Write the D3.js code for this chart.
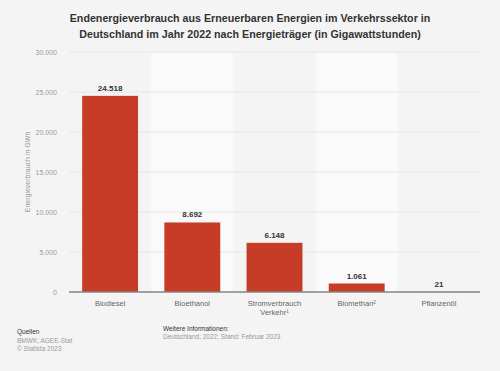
<!DOCTYPE html>
<html>
<head>
<meta charset="utf-8">
<script src="https://cdn.jsdelivr.net/npm/d3@7"></script>
<style>
  body { margin: 0; background: #f4f4f4; }
  svg { display: block; font-family: "Liberation Sans", Arial, sans-serif; }
</style>
</head>
<body>
<svg id="chart" width="500" height="371"></svg>
<script>
var categories = ["Biodiesel", "Bioethanol", "Stromverbrauch Verkehr\u00b9", "Biomethan\u00b2", "Pflanzenöl"];
var labelLines = [["Biodiesel"], ["Bioethanol"], ["Stromverbrauch", "Verkehr\u00b9"], ["Biomethan\u00b2"], ["Pflanzenöl"]];
var values = [24518, 8692, 6148, 1061, 21];
var yTicks = [0, 5000, 10000, 15000, 20000, 25000, 30000];

var svg = d3.select("#chart");
var fmt = function(v) { return d3.format(",")(v).replace(/,/g, "."); };

var x = d3.scaleBand().domain(categories).range([69, 480]);
var y = d3.scaleLinear().domain([0, 30000]).range([292, 52]);

svg.append("rect").attr("width", 500).attr("height", 371).attr("fill", "#f4f4f4");

// alternating column backgrounds
svg.append("g").selectAll("rect").data(categories).enter().append("rect")
  .attr("x", function(d){ return x(d); })
  .attr("y", y(30000))
  .attr("width", x.bandwidth())
  .attr("height", y(0) - y(30000))
  .attr("fill", function(d, i){ return i % 2 ? "#fafafa" : "#f4f4f4"; });

// grid lines
svg.append("g").selectAll("line").data(yTicks.slice(1)).enter().append("line")
  .attr("x1", 69).attr("x2", 480)
  .attr("y1", function(d){ return y(d); })
  .attr("y2", function(d){ return y(d); })
  .attr("stroke", "#e6e6e6").attr("stroke-width", 1);

// y axis labels
var yAxis = svg.append("g").attr("transform", "translate(69,0)")
  .call(d3.axisLeft(y).tickValues(yTicks).tickSize(0).tickPadding(12).tickFormat(fmt));
yAxis.select(".domain").remove();
yAxis.selectAll("text").attr("fill", "#999").style("font-size", "7px");

svg.append("text")
  .attr("transform", "translate(30,172) rotate(-90)")
  .attr("text-anchor", "middle")
  .attr("fill", "#999").style("font-size", "7px")
  .text("Energieverbrauch in GWh");

// bars
var barW = x.bandwidth() * 0.68;
var barOff = (x.bandwidth() - barW) / 2;
svg.append("g").selectAll("rect").data(values).enter().append("rect")
  .attr("x", function(d, i){ return x(categories[i]) + barOff; })
  .attr("y", function(d){ return y(d); })
  .attr("width", barW)
  .attr("height", function(d){ return y(0) - y(d); })
  .attr("fill", "#c63c27");

// value labels
svg.append("g").selectAll("text").data(values).enter().append("text")
  .attr("x", function(d, i){ return x(categories[i]) + x.bandwidth() / 2; })
  .attr("y", function(d){ return y(d) - 5; })
  .attr("text-anchor", "middle")
  .attr("fill", "#333").style("font-size", "8px").style("font-weight", "bold")
  .text(fmt);

// baseline
svg.append("line")
  .attr("x1", 69).attr("x2", 480).attr("y1", y(0)).attr("y2", y(0))
  .attr("stroke", "#858585").attr("stroke-width", 1.5);

// x labels
var xl = svg.append("g").selectAll("text").data(labelLines).enter().append("text")
  .attr("x", function(d, i){ return x(categories[i]) + x.bandwidth() / 2; })
  .attr("y", 306)
  .attr("text-anchor", "middle")
  .attr("fill", "#666").style("font-size", "7.5px");
xl.selectAll("tspan").data(function(d){ return d; }).enter().append("tspan")
  .attr("x", function(){ return d3.select(this.parentNode).attr("x"); })
  .attr("dy", function(d, i){ return i ? 9 : 0; })
  .text(function(d){ return d; });

// title
var title = ["Endenergieverbrauch aus Erneuerbaren Energien im Verkehrssektor in",
             "Deutschland im Jahr 2022 nach Energieträger (in Gigawattstunden)"];
svg.append("g").selectAll("text").data(title).enter().append("text")
  .attr("x", 250).attr("y", function(d, i){ return 21.5 + i * 16; })
  .attr("text-anchor", "middle")
  .attr("fill", "#333").style("font-size", "10.7px").style("font-weight", "bold")
  .text(function(d){ return d; });

// footer
var foot = svg.append("g").style("font-size", "6.5px");
foot.append("text").attr("x", 17).attr("y", 334).attr("fill", "#333").text("Quellen");
foot.append("text").attr("x", 17).attr("y", 343).attr("fill", "#999").text("BMWK; AGEE-Stat");
foot.append("text").attr("x", 17).attr("y", 351).attr("fill", "#999").text("© Statista 2023");
foot.append("text").attr("x", 163).attr("y", 331).attr("fill", "#333").text("Weitere Informationen:");
foot.append("text").attr("x", 163).attr("y", 339).attr("fill", "#999").text("Deutschland; 2022; Stand: Februar 2023");
</script>
</body>
</html>
